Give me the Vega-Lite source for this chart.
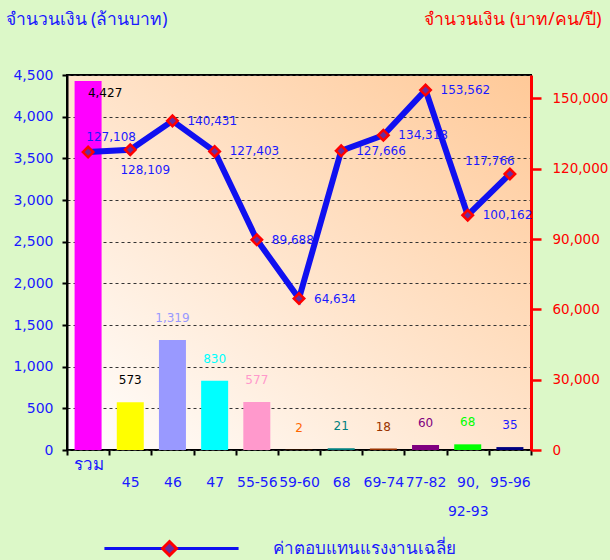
{
  "$schema": "https://vega.github.io/schema/vega-lite/v6.json",
  "width": 464,
  "height": 375,
  "autosize": {"type": "none"},
  "padding": {"left": 67, "top": 75, "right": 79, "bottom": 110},
  "background": "#DCF8C8",
  "config": {
    "view": {
      "stroke": "black",
      "strokeWidth": 2,
      "fill": {"gradient": "linear", "x1": 0, "y1": 1, "x2": 1, "y2": 0,
        "stops": [{"offset": 0, "color": "#FFFFFF"}, {"offset": 1, "color": "#FFC998"}]}
    }
  },
  "data": {"values": [
    {"cat": "รวม", "amount": 4427, "wage": 127108},
    {"cat": "45", "amount": 573, "wage": 128109},
    {"cat": "46", "amount": 1319, "wage": 140431},
    {"cat": "47", "amount": 830, "wage": 127403},
    {"cat": "55-56", "amount": 577, "wage": 89688},
    {"cat": "59-60", "amount": 2, "wage": 64634},
    {"cat": "68", "amount": 21, "wage": 127666},
    {"cat": "69-74", "amount": 18, "wage": 134318},
    {"cat": "77-82", "amount": 60, "wage": 153562},
    {"cat": "90, 92-93", "amount": 68, "wage": 100162},
    {"cat": "95-96", "amount": 35, "wage": 117766}
  ]},
  "layer": [
    {
      "layer": [
        {
          "mark": {"type": "bar", "width": {"band": 0.64}},
          "encoding": {
            "x": {"field": "cat", "type": "nominal",
              "scale": {"domain": ["รวม","45","46","47","55-56","59-60","68","69-74","77-82","90, 92-93","95-96"], "paddingInner": 0, "paddingOuter": 0},
              "axis": {"orient": "bottom", "title": null, "domain": false, "tickBand": "extent",
                "tickSize": 5, "tickWidth": 2, "tickColor": "black", "labelAngle": 0,
                "labelColor": "#1a1aff", "labelBaseline": "top", "labelLineHeight": 29,
                "labelFont": {"condition": {"test": "datum.value == 'รวม'", "value": "Noto Sans"}, "value": "DejaVu Sans"},
                "labelFontSize": {"condition": {"test": "datum.value == 'รวม'", "value": 17}, "value": 14},
                "labelPadding": {"condition": {"test": "datum.value == 'รวม'", "value": 1}, "value": 20},
                "labelExpr": "datum.value == '90, 92-93' ? ['90,', '92-93'] : datum.value",
                "labelOverlap": false}},
            "y": {"field": "amount", "type": "quantitative",
              "scale": {"domain": [0, 4500], "nice": false},
              "axis": {"orient": "left", "values": [0,500,1000,1500,2000,2500,3000,3500,4000,4500], "format": ",.0f",
                "labelFont": "DejaVu Sans", "labelFontSize": 14, "labelColor": "#1a1aff", "labelPadding": 9,
                "tickSize": 5, "tickWidth": 2, "tickColor": "black", "domainColor": "black", "domainWidth": 2,
                "grid": true, "gridDash": [3, 3], "gridColor": "#333333", "gridWidth": 1,
                "title": "จำนวนเงิน (ล้านบาท)", "titleAngle": 0, "titleAlign": "left", "titleBaseline": "middle",
                "titleX": -62, "titleY": -56, "titleFont": "Noto Sans", "titleFontSize": 17.5, "titleFontWeight": "normal", "titleColor": "#1a1aff"}},
            "color": {"field": "cat", "type": "nominal", "legend": null,
              "scale": {"domain": ["รวม","45","46","47","55-56","59-60","68","69-74","77-82","90, 92-93","95-96"],
                "range": ["#FF00FF","#FFFF00","#9999FF","#00FFFF","#FF99CC","#FF6600","#008080","#993300","#800080","#00FF00","#000080"]}}
          }
        },
        {
          "transform": [{"filter": "datum.cat != 'รวม'"}],
          "mark": {"type": "text", "dy": -22, "baseline": "middle", "font": "DejaVu Sans", "fontSize": 12},
          "encoding": {
            "x": {"field": "cat", "type": "nominal"},
            "y": {"field": "amount", "type": "quantitative"},
            "text": {"field": "amount", "type": "quantitative", "format": ","},
            "fill": {"field": "cat", "type": "nominal", "legend": null,
              "scale": {"domain": ["รวม","45","46","47","55-56","59-60","68","69-74","77-82","90, 92-93","95-96"],
                "range": ["#000000","#000000","#9999FF","#00FFFF","#FF99CC","#FF6600","#008080","#993300","#800080","#00FF00","#1a1aff"]}}
          }
        },
        {
          "transform": [{"filter": "datum.cat == 'รวม'"}],
          "mark": {"type": "text", "dx": 17, "dy": 12, "baseline": "middle", "font": "DejaVu Sans", "fontSize": 12, "color": "#000000"},
          "encoding": {
            "x": {"field": "cat", "type": "nominal"},
            "y": {"field": "amount", "type": "quantitative"},
            "text": {"field": "amount", "type": "quantitative", "format": ","}
          }
        }
      ]
    },
    {
      "encoding": {
        "x": {"field": "cat", "type": "nominal", "axis": null,
          "scale": {"domain": ["รวม","45","46","47","55-56","59-60","68","69-74","77-82","90, 92-93","95-96"], "paddingInner": 0, "paddingOuter": 0}},
        "y": {"field": "wage", "type": "quantitative",
          "scale": {"domain": [0, 160000], "nice": false},
          "axis": {"orient": "right", "values": [0,30000,60000,90000,120000,150000], "format": ",.0f",
            "labelFont": "DejaVu Sans", "labelFontSize": 13.5, "labelColor": "#FF0000", "labelPadding": 11,
            "tickSize": 10, "tickWidth": 2.5, "tickColor": "#FF0000", "domainColor": "#FF0000", "domainWidth": 3,
            "grid": false,
            "title": "จำนวนเงิน (บาท/คน/ปี)", "titleAngle": 0, "titleAlign": "right", "titleBaseline": "middle",
            "titleX": 70, "titleY": -56, "titleFont": "Noto Sans", "titleFontSize": 17.5, "titleFontWeight": "normal", "titleColor": "#FF0000"}}
      },
      "layer": [
        {
          "mark": {"type": "line", "strokeWidth": 6},
          "encoding": {
            "stroke": {"datum": "ค่าตอบแทนแรงงานเฉลี่ย", "type": "nominal",
              "scale": {"range": ["#1010F0"]},
              "legend": {"orient": "none", "legendX": 96, "legendY": 465, "title": null, "padding": 0,
                "symbolType": "M-10,0H10", "symbolSize": 180, "symbolStrokeWidth": 3,
                "labelFont": "Noto Sans", "labelFontSize": 17, "labelColor": "#1a1aff", "labelOffset": 93, "labelLimit": 400}}
          }
        },
        {
          "mark": {"type": "point", "filled": true, "fill": "#6A2D9E", "stroke": "#FF0000", "strokeWidth": 2.5, "size": 110, "opacity": 1},
          "encoding": {
            "shape": {"datum": "marker", "type": "nominal",
              "scale": {"range": ["diamond"]},
              "legend": {"orient": "none", "legendX": 94, "legendY": 465, "title": null, "padding": 0,
                "labelExpr": "''", "symbolSize": 196, "symbolStrokeWidth": 3,
                "encode": {"symbols": {"fill": {"value": "white"}, "stroke": {"value": "#FF0000"}, "strokeWidth": {"value": 3}, "opacity": {"value": 1}}}}}
          }
        },
        {
          "transform": [{"filter": {"not": {"field": "cat", "oneOf": ["รวม", "45", "95-96"]}}}],
          "mark": {"type": "text", "align": "left", "baseline": "middle", "dx": 15, "font": "DejaVu Sans", "fontSize": 12, "color": "#1a1aff"},
          "encoding": {"text": {"field": "wage", "type": "quantitative", "format": ","}}
        },
        {
          "transform": [{"filter": "datum.cat == 'รวม'"}],
          "mark": {"type": "text", "align": "center", "baseline": "middle", "dx": 23, "dy": -15, "font": "DejaVu Sans", "fontSize": 12, "color": "#1a1aff"},
          "encoding": {"text": {"field": "wage", "type": "quantitative", "format": ","}}
        },
        {
          "transform": [{"filter": "datum.cat == '45'"}],
          "mark": {"type": "text", "align": "center", "baseline": "middle", "dx": 15, "dy": 20, "font": "DejaVu Sans", "fontSize": 12, "color": "#1a1aff"},
          "encoding": {"text": {"field": "wage", "type": "quantitative", "format": ","}}
        },
        {
          "transform": [{"filter": "datum.cat == '95-96'"}],
          "mark": {"type": "text", "align": "center", "baseline": "middle", "dx": -20, "dy": -13, "font": "DejaVu Sans", "fontSize": 12, "color": "#1a1aff"},
          "encoding": {"text": {"field": "wage", "type": "quantitative", "format": ","}}
        }
      ]
    }
  ],
  "resolve": {"scale": {"x": "independent", "y": "independent"}}
}
